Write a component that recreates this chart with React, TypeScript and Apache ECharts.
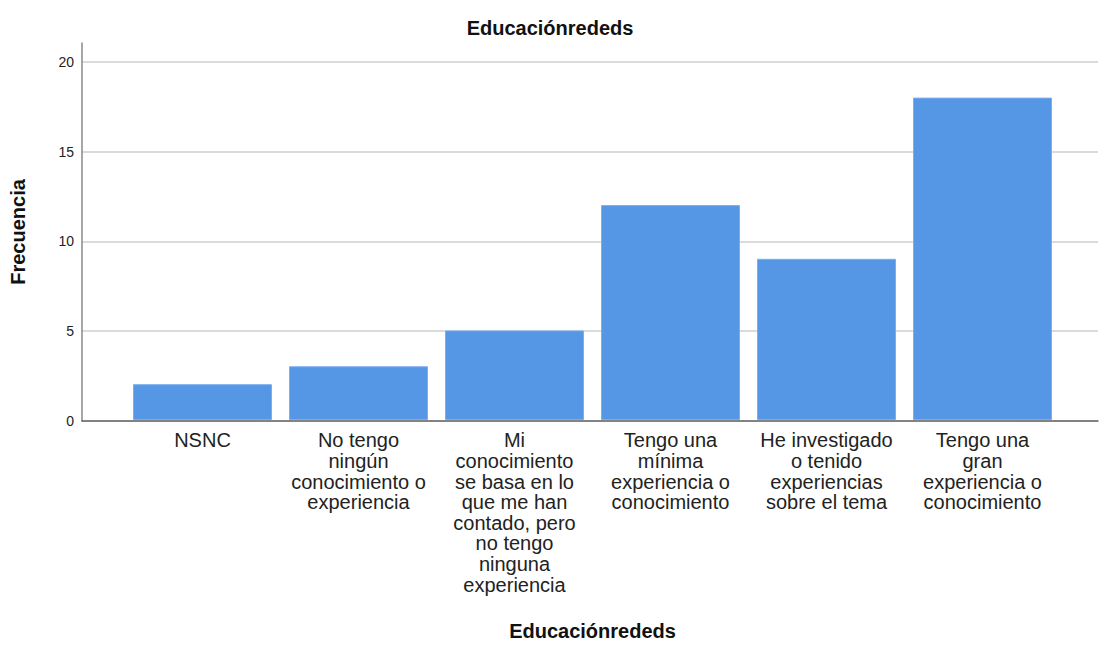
import React, { useEffect, useRef } from "react";
import * as echarts from "echarts";

const categories = [
  "NSNC",
  "No tengo\nningún\nconocimiento o\nexperiencia",
  "Mi\nconocimiento\nse basa en lo\nque me han\ncontado, pero\nno tengo\nninguna\nexperiencia",
  "Tengo una\nmínima\nexperiencia o\nconocimiento",
  "He investigado\no tenido\nexperiencias\nsobre el tema",
  "Tengo una\ngran\nexperiencia o\nconocimiento",
];
const frecuencias = [2, 3, 5, 12, 9, 18];
const yTicks = [0, 5, 10, 15, 20];

const FONT = "'Liberation Sans', Arial, sans-serif";

export default function App() {
  const ref = useRef<HTMLDivElement>(null);
  useEffect(() => {
    if (!ref.current) return;
    const chart = echarts.init(ref.current, null, { renderer: "svg" });
    const yMax = 21.05;
    chart.setOption({
      animation: false,
      backgroundColor: "#ffffff",
      title: {
        text: "Educaciónrededs",
        left: "center",
        top: 13,
        textStyle: { fontFamily: FONT, fontSize: 20, fontWeight: "bold", color: "#111" },
      },
      grid: [
        { left: 74, right: 2, top: 43, bottom: 225, containLabel: false },
        { left: 124.5, width: 936, top: 43, bottom: 225, containLabel: false },
      ],
      xAxis: [
        {
          type: "value",
          gridIndex: 0,
          min: 0,
          max: 1,
          axisLine: { show: true, lineStyle: { color: "#666", width: 1.5 } },
          axisTick: { show: false },
          axisLabel: { show: false },
          splitLine: { show: false },
        },
        {
          type: "category",
          gridIndex: 1,
          data: categories,
          boundaryGap: true,
          name: "Educaciónrededs",
          nameLocation: "middle",
          nameGap: 201,
          nameTextStyle: { fontFamily: FONT, fontSize: 20, fontWeight: "bold", color: "#111" },
          axisLine: { show: false },
          axisTick: { show: false },
          axisLabel: {
            interval: 0,
            margin: 10,
            fontFamily: FONT,
            fontSize: 20,
            lineHeight: 20.6,
            color: "#222",
            align: "center",
          },
        },
      ],
      yAxis: [
        {
          type: "value",
          gridIndex: 0,
          min: 0,
          max: yMax,
          interval: 5,
          name: "Frecuencia",
          nameLocation: "middle",
          nameGap: 54,
          nameTextStyle: { fontFamily: FONT, fontSize: 20, fontWeight: "bold", color: "#111" },
          axisLine: { show: true, lineStyle: { color: "#888", width: 1.5 } },
          axisTick: { show: false },
          axisLabel: {
            showMaxLabel: false,
            margin: 8,
            fontFamily: FONT,
            fontSize: 14,
            color: "#222",
            formatter: (v: number) => (yTicks.includes(v) ? String(v) : ""),
          },
          splitLine: { show: true, showMaxLine: false, lineStyle: { color: "#cfcfcf", width: 1.5 } },
        },
        {
          type: "value",
          gridIndex: 1,
          min: 0,
          max: yMax,
          show: false,
          splitLine: { show: false },
        },
      ],
      series: [
        {
          type: "bar",
          xAxisIndex: 1,
          yAxisIndex: 1,
          data: frecuencias,
          barWidth: 139,
          z: 5,
          itemStyle: { color: "#5596e5", borderColor: "#7aaef0", borderWidth: 1 },
        },
      ],
    });
    return () => chart.dispose();
  }, []);
  return (
    <div
      ref={ref}
      style={{ position: "absolute", left: 0, top: 0, width: 1100, height: 646 }}
    />
  );
}
